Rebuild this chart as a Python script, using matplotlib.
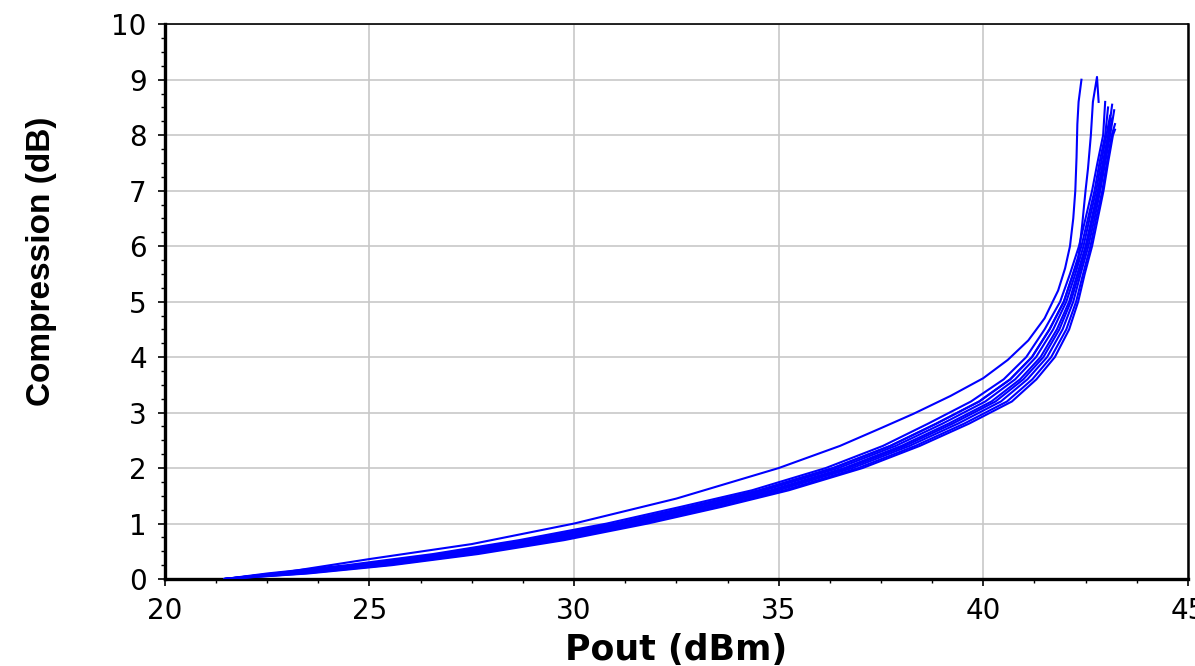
import matplotlib
matplotlib.use("Agg")
import matplotlib.pyplot as plt
from matplotlib.ticker import MultipleLocator

# compression levels shared by the main bundle of curves (dB)
comp_levels = [0, 0.1, 0.25, 0.45, 0.7, 1.0, 1.3, 1.6, 2.0, 2.4, 2.8, 3.2, 3.6,
               4.0, 4.5, 5.0, 5.5, 6.0, 6.5, 7.0, 7.5, 8.0]

# Pout (dBm) of each bundle curve at those compression levels
pout_b1 = [21.45, 22.5, 24.45, 26.55, 28.65, 30.8, 32.6, 34.35, 36.15, 37.55, 38.65,
           39.7, 40.5, 41.05, 41.5, 41.88, 42.12, 42.34, 42.5, 42.66, 42.79, 42.93]
pout_b2 = [21.45, 22.7, 24.67, 26.77, 28.87, 31.0, 32.8, 34.53, 36.33, 37.73, 38.85,
           39.9, 40.66, 41.19, 41.62, 41.97, 42.19, 42.4, 42.56, 42.72, 42.84, 42.98]
pout_b3 = [21.45, 22.85, 24.83, 26.93, 29.03, 31.15, 32.95, 34.66, 36.46, 37.86, 39.0,
           40.05, 40.78, 41.29, 41.71, 42.03, 42.25, 42.45, 42.6, 42.76, 42.88, 43.01]
pout_b4 = [21.45, 23.0, 25.0, 27.1, 29.2, 31.3, 33.1, 34.8, 36.6, 38.0, 39.15,
           40.2, 40.9, 41.4, 41.8, 42.1, 42.3, 42.5, 42.65, 42.8, 42.92, 43.05]
pout_b5 = [21.45, 23.1, 25.11, 27.21, 29.31, 31.4, 33.2, 34.89, 36.69, 38.09, 39.25,
           40.3, 40.98, 41.47, 41.86, 42.14, 42.34, 42.53, 42.68, 42.83, 42.95, 43.07]
pout_b6 = [21.45, 23.23, 25.25, 27.35, 29.45, 31.53, 33.33, 35.0, 36.8, 38.2, 39.38,
           40.43, 41.08, 41.56, 41.94, 42.2, 42.38, 42.57, 42.72, 42.86, 42.98, 43.1]
pout_b7 = [21.45, 23.38, 25.41, 27.51, 29.61, 31.68, 33.48, 35.14, 36.94, 38.34, 39.53,
           40.58, 41.2, 41.66, 42.03, 42.27, 42.44, 42.62, 42.76, 42.91, 43.02, 43.14]
pout_b8 = [21.45, 23.5, 25.55, 27.65, 29.75, 31.8, 33.6, 35.25, 37.05, 38.45, 39.65,
           40.7, 41.3, 41.75, 42.1, 42.32, 42.48, 42.66, 42.8, 42.94, 43.05, 43.17]

# last point of each bundle curve (Pout, compression)
bundle_end_pout = [42.98, 43.05, 43.1, 43.15, 43.15, 43.2, 43.22, 43.22]
bundle_end_comp = [8.6, 8.5, 8.35, 8.55, 8.3, 8.45, 8.2, 8.1]

# the two curves that break away from the bundle
pout_a = [21.45, 23.0, 25.0, 27.5, 30.0, 32.5, 35.0, 36.5, 37.5, 38.3, 39.2, 40.0,
          40.6, 41.1, 41.5, 41.83, 42.0, 42.12, 42.2, 42.25, 42.28, 42.3, 42.33, 42.4]
comp_a = [0, 0.13, 0.36, 0.63, 1.0, 1.45, 2.0, 2.4, 2.72, 2.98, 3.3, 3.62,
          3.95, 4.3, 4.7, 5.2, 5.6, 6.0, 6.5, 7.0, 7.6, 8.2, 8.6, 9.0]
pout_b = [21.45, 22.7, 24.67, 26.77, 28.87, 31.0, 32.8, 34.53, 36.33, 37.73, 38.85,
          39.9, 40.66, 41.19, 41.62, 41.97, 42.2, 42.32, 42.42, 42.5, 42.56, 42.63,
          42.68, 42.78, 42.82]
comp_b = [0, 0.1, 0.25, 0.45, 0.7, 1.0, 1.3, 1.6, 2.0, 2.4, 2.8,
          3.2, 3.6, 4.0, 4.5, 5.0, 5.5, 5.75, 6.4, 7.0, 7.4, 8.0,
          8.6, 9.05, 8.6]

x_ticks = [20, 25, 30, 35, 40, 45]
y_ticks = [0, 1, 2, 3, 4, 5, 6, 7, 8, 9, 10]

fig = plt.figure(figsize=(11.95, 6.66), dpi=100)
ax = fig.add_axes([0.138, 0.1306, 0.856, 0.833])

bundle = [pout_b1, pout_b2, pout_b3, pout_b4, pout_b5, pout_b6, pout_b7, pout_b8]
for i, p in enumerate(bundle):
    ax.plot(p + [bundle_end_pout[i]], comp_levels + [bundle_end_comp[i]],
            color="#0000ff", lw=1.5, zorder=3)
ax.plot(pout_a, comp_a, color="#0000ff", lw=1.5, zorder=3)
ax.plot(pout_b, comp_b, color="#0000ff", lw=1.5, zorder=3)

ax.set_xlim(20, 45)
ax.set_ylim(0, 10)
ax.set_xticks(x_ticks)
ax.set_yticks(y_ticks)
ax.xaxis.set_minor_locator(MultipleLocator(1.25))
ax.yaxis.set_minor_locator(MultipleLocator(0.25))
ax.grid(True, which="major", color="#c8c8c8", lw=1.2, zorder=0)
ax.set_axisbelow(True)

ax.tick_params(which="major", direction="out", length=5, width=1.2,
               labelsize=20, pad=8)
ax.tick_params(which="minor", direction="out", length=3, width=1)
for lab in ax.get_xticklabels() + ax.get_yticklabels():
    lab.set_family("DejaVu Sans")

ax.spines["left"].set_linewidth(2.4)
ax.spines["bottom"].set_linewidth(2.4)
ax.spines["top"].set_linewidth(1.2)
ax.spines["right"].set_linewidth(1.8)

ax.set_xlabel("Pout (dBm)", fontsize=25, fontweight="bold", family="DejaVu Sans")
ax.xaxis.set_label_coords(0.5, -0.097)
ax.xaxis.label.set_va("top")
ax.set_ylabel("Compression (dB)", fontsize=24, fontweight="bold", family="Liberation Sans")
ax.yaxis.set_label_coords(-0.1056, 0.573)

fig.savefig("out.png", dpi=100)
